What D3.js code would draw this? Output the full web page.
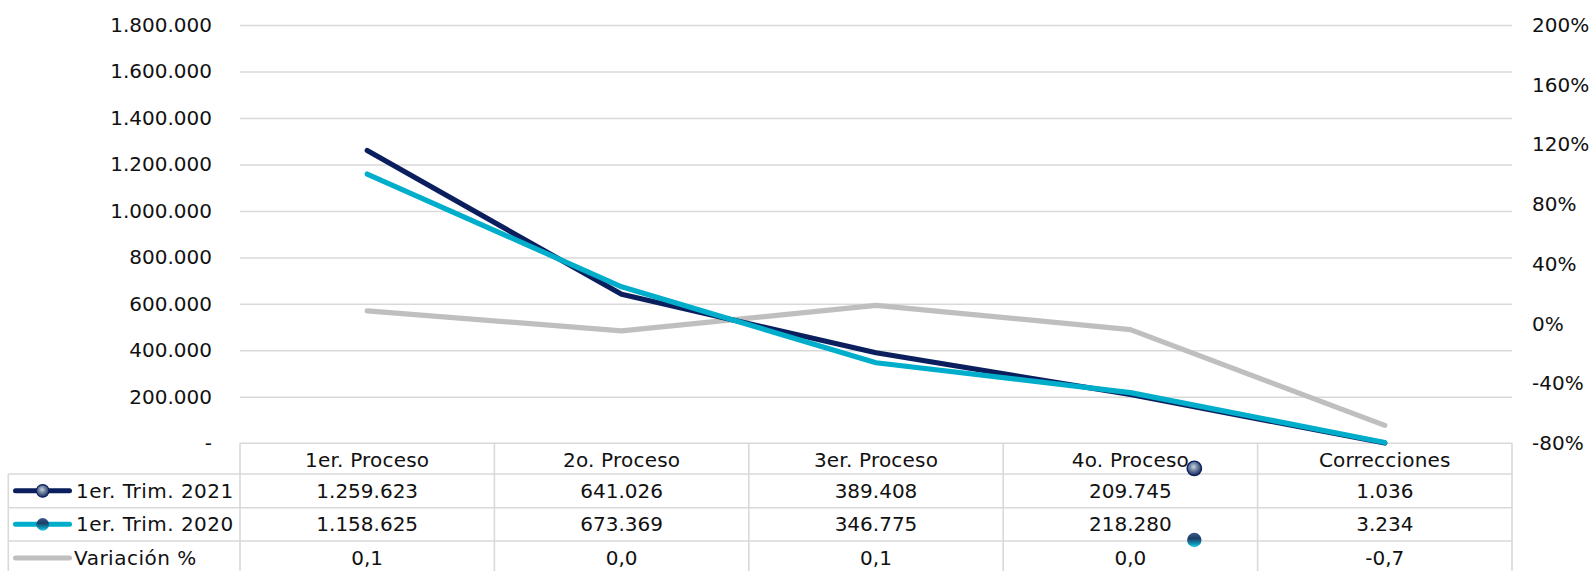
<!DOCTYPE html>
<html>
<head>
<meta charset="utf-8">
<script src="https://cdn.jsdelivr.net/npm/d3@7"></script>
<style>
  html, body { margin: 0; padding: 0; background: #ffffff; }
  svg text { font-family: "DejaVu Sans", Verdana, sans-serif; font-size: 20px; fill: #111111; }
</style>
</head>
<body>
<svg id="chart" width="1591" height="571"></svg>
<script>
// ---- data ----
const categories = ["1er. Proceso", "2o. Proceso", "3er. Proceso", "4o. Proceso", "Correcciones"];
const seriesNames = ["1er. Trim. 2021", "1er. Trim. 2020", "Variación %"];
const values2021 = [1259623, 641026, 389408, 209745, 1036];
const values2020 = [1158625, 673369, 346775, 218280, 3234];
const variationPct = [8.7, -4.8, 12.3, -3.9, -68.0];
const variationLabels = ["0,1", "0,0", "0,1", "0,0", "-0,7"];
const leftTicks = [0, 200000, 400000, 600000, 800000, 1000000, 1200000, 1400000, 1600000, 1800000];
const rightTicks = [-80, -40, 0, 40, 80, 120, 160, 200];

// ---- layout ----
const svg = d3.select("#chart");
const plotL = 240, plotR = 1512, plotT = 25, plotB = 443.3;
const colors = { s2021: "#0B1F5E", s2020: "#00AECB", varc: "#BFBFBF", grid: "#D9D9D9" };

const x = d3.scaleBand().domain(categories).range([plotL, plotR]).padding(0);
const cx = c => x(c) + x.bandwidth() / 2;
const yL = d3.scaleLinear().domain([0, 1800000]).range([plotB, plotT]);
const yR = d3.scaleLinear().domain([-80, 200]).range([plotB, plotT]);

const deFmt = d3.formatLocale({ decimal: ",", thousands: ".", grouping: [3], currency: ["", ""] });
const fmtInt = deFmt.format(",d");

// gradients for sphere markers
const defs = svg.append("defs");
const g1 = defs.append("radialGradient").attr("id", "sph2021").attr("cx", "45%").attr("cy", "40%").attr("r", "60%");
g1.append("stop").attr("offset", "0%").attr("stop-color", "#C9D2DE");
g1.append("stop").attr("offset", "55%").attr("stop-color", "#5F7294");
g1.append("stop").attr("offset", "100%").attr("stop-color", "#1B2E5E");
const g2 = defs.append("linearGradient").attr("id", "sph2020").attr("x1", "0").attr("y1", "0").attr("x2", "0").attr("y2", "1");
g2.append("stop").attr("offset", "0%").attr("stop-color", "#3A5C8A");
g2.append("stop").attr("offset", "40%").attr("stop-color", "#1C3C66");
g2.append("stop").attr("offset", "75%").attr("stop-color", "#0E8FB0");
g2.append("stop").attr("offset", "100%").attr("stop-color", "#22D2EA");

// gridlines (left axis)
const gridAxis = d3.axisLeft(yL).tickValues(leftTicks.filter(d => d > 0)).tickSize(-(plotR - plotL)).tickFormat("");
const gg = svg.append("g").attr("transform", `translate(${plotL},0)`).call(gridAxis);
gg.select(".domain").remove();
gg.selectAll(".tick line").attr("stroke", colors.grid).attr("stroke-width", 1.5);

// left axis labels
const leftAxis = d3.axisLeft(yL).tickValues(leftTicks).tickSize(0).tickPadding(0)
  .tickFormat(d => d === 0 ? "-" : fmtInt(d));
const la = svg.append("g").attr("transform", `translate(212,0)`).call(leftAxis);
la.select(".domain").remove();
la.selectAll("text").attr("font-size", 20).attr("font-family", "DejaVu Sans, Verdana, sans-serif").attr("fill", "#111111");

// right axis labels
const rightAxis = d3.axisRight(yR).tickValues(rightTicks).tickSize(0).tickPadding(0).tickFormat(d => d + "%");
const ra = svg.append("g").attr("transform", `translate(1532,0)`).call(rightAxis);
ra.select(".domain").remove();
ra.selectAll("text").attr("font-size", 20).attr("font-family", "DejaVu Sans, Verdana, sans-serif").attr("fill", "#111111");

// ---- data table ----
const rowY = [443.3, 474, 507.7, 541, 575];
const tbl = svg.append("g");
function hline(x1, x2, yy) {
  tbl.append("line").attr("x1", x1).attr("x2", x2).attr("y1", yy).attr("y2", yy)
    .attr("stroke", colors.grid).attr("stroke-width", 1.6);
}
function vline(xx, y1, y2) {
  tbl.append("line").attr("x1", xx).attr("x2", xx).attr("y1", y1).attr("y2", y2)
    .attr("stroke", colors.grid).attr("stroke-width", 1.6);
}
hline(plotL, plotR, rowY[0]);
for (let i = 1; i < 4; i++) hline(8.3, plotR, rowY[i]);
vline(8.3, rowY[1], 571);
categories.forEach(c => vline(x(c), rowY[0], 571));
vline(plotR, rowY[0], 571);

// header
tbl.selectAll("text.hdr").data(categories).join("text").attr("class", "hdr")
  .attr("x", d => cx(d)).attr("y", (rowY[0] + rowY[1]) / 2 + 1).attr("text-anchor", "middle")
  .attr("dominant-baseline", "central").attr("letter-spacing", 0.2).text(d => d);

const rowsText = [values2021.map(fmtInt), values2020.map(fmtInt), variationLabels];
rowsText.forEach((arr, r) => {
  const ym = (rowY[r + 1] + rowY[r + 2]) / 2;
  tbl.selectAll(`text.r${r}`).data(arr).join("text").attr("class", `r${r}`)
    .attr("x", (d, i) => cx(categories[i])).attr("y", ym).attr("text-anchor", "middle")
    .attr("dominant-baseline", "central").text(d => d);
  tbl.append("text").attr("x", r === 2 ? 74 : 76).attr("y", ym).attr("dominant-baseline", "central")
    .attr("letter-spacing", 0.5).text(seriesNames[r]);
});

// legend keys
const keyColors = [colors.s2021, colors.s2020, colors.varc];
keyColors.forEach((col, r) => {
  const ym = (rowY[r + 1] + rowY[r + 2]) / 2;
  tbl.append("line").attr("x1", 15.5).attr("x2", 69.5).attr("y1", ym).attr("y2", ym)
    .attr("stroke", col).attr("stroke-width", 5).attr("stroke-linecap", "round");
});
svg.append("circle").attr("cx", 42.7).attr("cy", (rowY[1] + rowY[2]) / 2).attr("r", 6.3)
  .attr("fill", "url(#sph2021)").attr("stroke", colors.s2021).attr("stroke-width", 1.2);
svg.append("circle").attr("cx", 42.7).attr("cy", (rowY[2] + rowY[3]) / 2).attr("r", 6.3)
  .attr("fill", "url(#sph2020)");

// stray markers (as in reference)
svg.append("circle").attr("cx", 1194.3).attr("cy", 468.3).attr("r", 7.2)
  .attr("fill", "url(#sph2021)").attr("stroke", colors.s2021).attr("stroke-width", 1.4);
svg.append("circle").attr("cx", 1194.3).attr("cy", 540).attr("r", 7.2)
  .attr("fill", "url(#sph2020)");

// ---- lines ----
const lineL = d3.line().x((d, i) => cx(categories[i])).y(d => yL(d));
const lineR = d3.line().x((d, i) => cx(categories[i])).y(d => yR(d));
const lines = svg.append("g").attr("fill", "none").attr("stroke-width", 5.2)
  .attr("stroke-linecap", "round").attr("stroke-linejoin", "round");
lines.append("path").attr("d", lineR(variationPct)).attr("stroke", colors.varc);
lines.append("path").attr("d", lineL(values2021)).attr("stroke", colors.s2021);
lines.append("path").attr("d", lineL(values2020)).attr("stroke", colors.s2020);
</script>
</body>
</html>
